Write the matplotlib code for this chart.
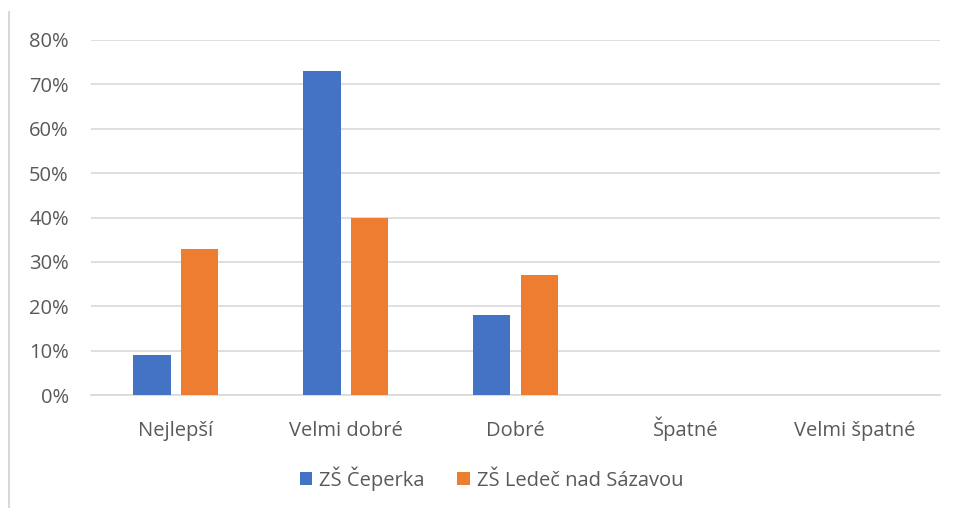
import numpy as np
import matplotlib.pyplot as plt
from matplotlib.lines import Line2D
from matplotlib.ticker import PercentFormatter

# Data
categories = ['Nejlepší', 'Velmi dobré', 'Dobré', 'Špatné', 'Velmi špatné']
series_names = ['ZŠ Čeperka', 'ZŠ Ledeč nad Sázavou']
ceperka = [0.09, 0.73, 0.18, 0.0, 0.0]
ledec = [0.33, 0.40, 0.27, 0.0, 0.0]

plt.rcParams['font.family'] = ['Open Sans', 'DejaVu Sans']
text_col = '#595959'
fs = 14.5

fig = plt.figure(figsize=(9.54, 5.08), dpi=100)
ax = fig.add_axes([0.0954, 0.2224, 0.8899, 0.6989])

x = np.arange(len(categories))
w = 0.22
ax.bar(x - 0.14, ceperka, w, color='#4472C4', label=series_names[0], zorder=3)
ax.bar(x + 0.14, ledec, w, color='#ED7D31', label=series_names[1], zorder=3)

ax.set_xlim(-0.5, len(categories) - 0.5)
ax.set_ylim(0, 0.8)
ax.set_yticks(np.arange(0, 0.81, 0.1))
ax.yaxis.set_major_formatter(PercentFormatter(1.0, decimals=0))
ax.set_xticks(x)
ax.set_xticklabels(categories)
ax.grid(axis='y', color='#D9D9D9', linewidth=1.2, zorder=0)
for s in ['top', 'right', 'left']:
    ax.spines[s].set_visible(False)
ax.spines['bottom'].set_color('#D9D9D9')
ax.spines['bottom'].set_linewidth(1.2)
ax.tick_params(axis='both', length=0, labelsize=fs, colors=text_col)
ax.tick_params(axis='y', pad=16)
ax.tick_params(axis='x', pad=29.5)
for lbl in ax.get_xticklabels():
    lbl.set_verticalalignment('baseline')

leg = fig.legend(loc='center', bbox_to_anchor=(0.515, 0.058), ncol=2, frameon=False,
                 fontsize=fs, handlelength=0.6, handleheight=0.6, columnspacing=1.65,
                 handletextpad=0.35)
for t in leg.get_texts():
    t.set_color(text_col)

# thin border at left edge
fig.add_artist(Line2D([0.0095, 0.0095], [0, 0.977], transform=fig.transFigure,
                      color='#D9D9D9', linewidth=1.5))

fig.savefig('out.png', dpi=100)
